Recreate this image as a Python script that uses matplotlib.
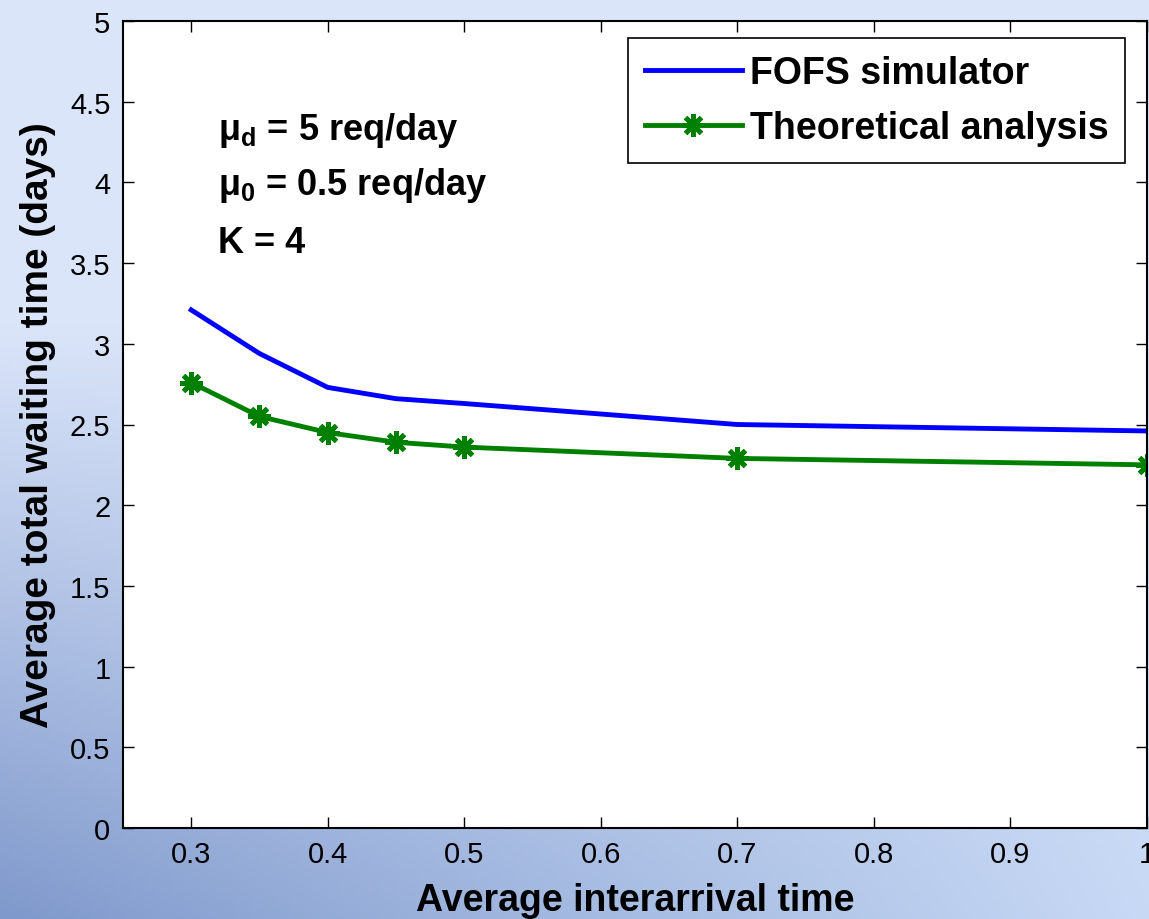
import matplotlib.pyplot as plt
import numpy as np

plt.rcParams['font.family'] = ['Liberation Sans', 'DejaVu Sans']
plt.rcParams['mathtext.fontset'] = 'custom'
plt.rcParams['mathtext.rm'] = 'Liberation Sans'
plt.rcParams['mathtext.bf'] = 'Liberation Sans:bold'
plt.rcParams['mathtext.it'] = 'Liberation Sans:italic'

# data
x = [0.3, 0.35, 0.4, 0.45, 0.5, 0.7, 1.0]
fofs_sim = [3.21, 2.94, 2.73, 2.66, 2.63, 2.50, 2.46]
theory = [2.76, 2.55, 2.45, 2.39, 2.36, 2.29, 2.25]
xticks = [0.3, 0.4, 0.5, 0.6, 0.7, 0.8, 0.9, 1.0]
xticklabels = ['0.3', '0.4', '0.5', '0.6', '0.7', '0.8', '0.9', '1']
yticks = [0, 0.5, 1, 1.5, 2, 2.5, 3, 3.5, 4, 4.5, 5]
yticklabels = ['0', '0.5', '1', '1.5', '2', '2.5', '3', '3.5', '4', '4.5', '5']

fig = plt.figure(figsize=(11.49, 9.2), dpi=100)

# bluish slide background (gradient)
bg = fig.add_axes([0, 0, 1, 1], zorder=-10)
gy, gx = np.mgrid[0:1:200j, 0:1:200j]
top = np.array([0.86, 0.90, 0.98])
bl = np.array([0.50, 0.60, 0.80])
br = np.array([0.78, 0.85, 0.96])
wy = np.clip((gy - 0.35) / 0.65, 0, 1)[..., None]
bottom = bl * (1 - gx[..., None]) + br * gx[..., None]
img = top * (1 - wy) + bottom * wy
bg.imshow(img, aspect='auto', extent=[0, 1, 0, 1], origin='upper')
bg.axis('off')

ax = fig.add_axes([0.107, 0.099, 0.891, 0.877])
ax.set_facecolor('white')
ax.plot(x, fofs_sim, c='#0000ff', lw=3.5, label='FOFS simulator')
ax.plot(x, theory, c='#008000', lw=3.5, marker=(8, 2, 0), ms=16, mew=3.5,
        label='Theoretical analysis')

ax.set_xlim(0.25, 1.0)
ax.set_ylim(0, 5)
ax.set_xticks(xticks)
ax.set_xticklabels(xticklabels)
ax.set_yticks(yticks)
ax.set_yticklabels(yticklabels)
ax.tick_params(direction='in', length=8, width=1, labelsize=21, pad=9,
               top=True, right=True)
for s in ax.spines.values():
    s.set_linewidth(1.5)

ax.set_xlabel('Average interarrival time', fontsize=27, fontweight='bold', labelpad=10)
ax.set_ylabel('Average total waiting time (days)', fontsize=28, fontweight='bold', labelpad=10)

ax.text(0.093, 0.866, r'μ$_\mathbf{d}$ = 5 req/day', transform=ax.transAxes,
        fontsize=26, fontweight='bold', va='center')
ax.text(0.093, 0.798, r'μ$_\mathbf{0}$ = 0.5 req/day', transform=ax.transAxes,
        fontsize=26, fontweight='bold', va='center')
ax.text(0.093, 0.726, 'K = 4', transform=ax.transAxes,
        fontsize=26, fontweight='bold', va='center')

leg = ax.legend(loc='upper right', bbox_to_anchor=(0.979, 0.979), fancybox=False,
                edgecolor='black', framealpha=1, prop={'size': 27, 'weight': 'bold'},
                handlelength=2.6, handletextpad=0.2, borderpad=0.45, labelspacing=0.5,
                borderaxespad=0)
leg.get_frame().set_linewidth(1.2)

plt.savefig('out.png', dpi=100)
